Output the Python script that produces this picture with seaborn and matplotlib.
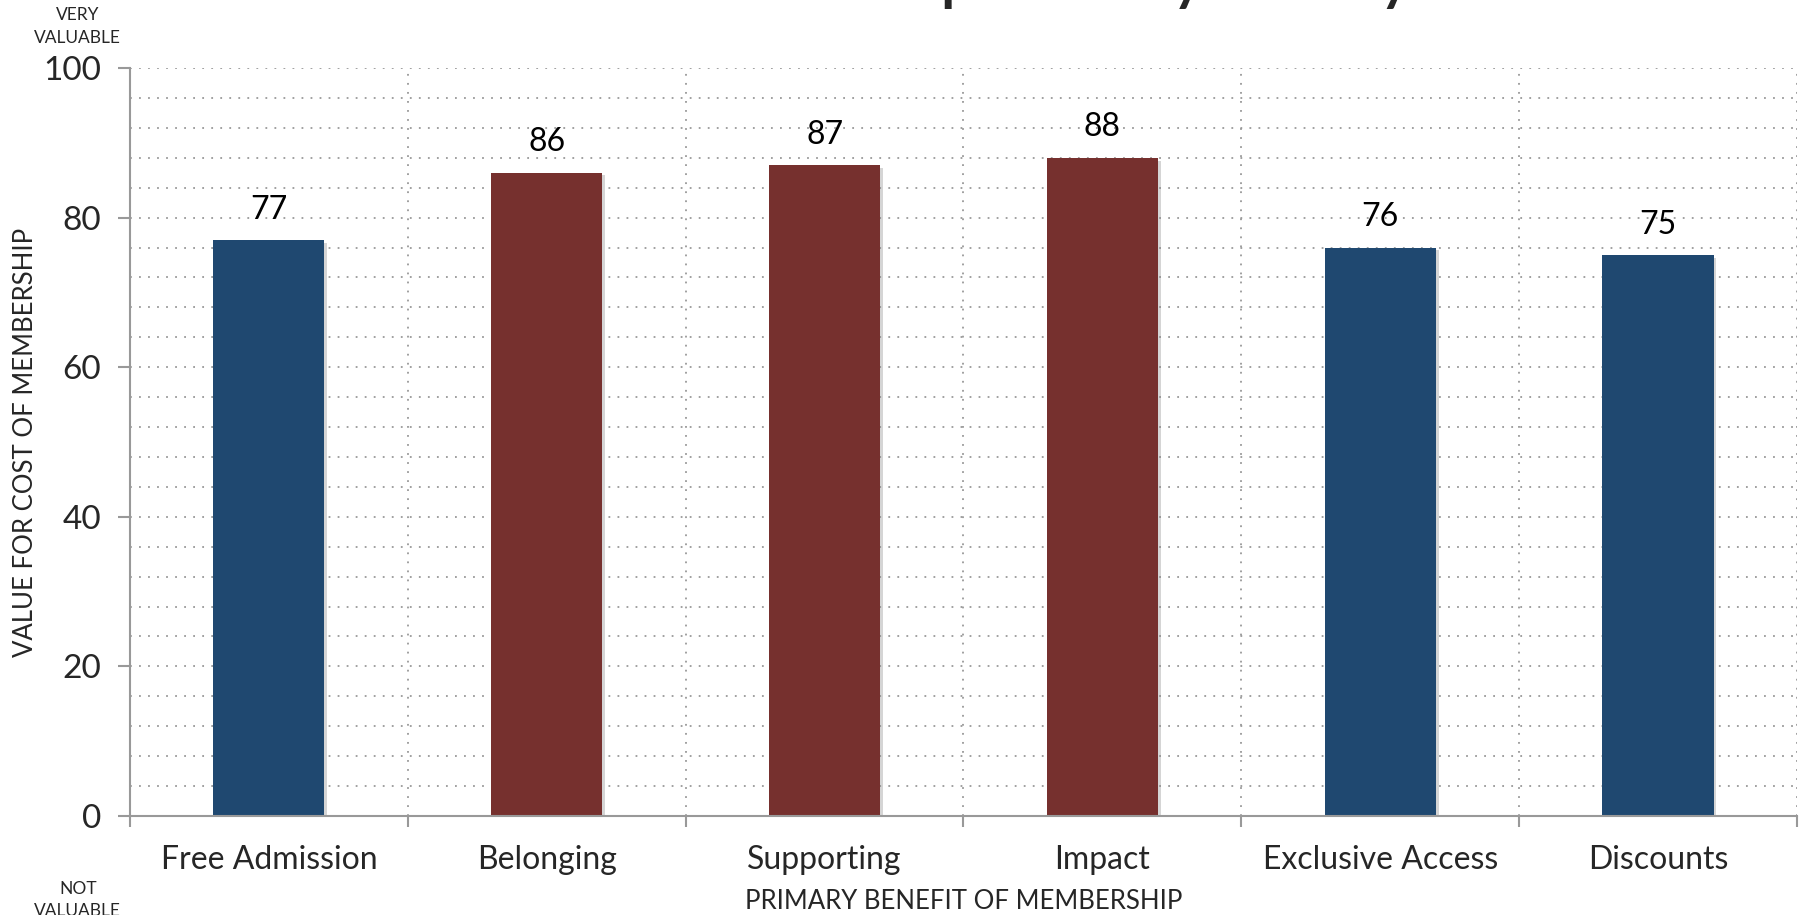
import matplotlib
matplotlib.use("Agg")
import matplotlib.pyplot as plt
import matplotlib.patheffects as pe
from matplotlib.ticker import MultipleLocator, FixedLocator
import seaborn as sns
import pandas as pd

# Data
benefits = ["Free Admission", "Belonging", "Supporting", "Impact", "Exclusive Access", "Discounts"]
scores = [77, 86, 87, 88, 76, 75]
groups = ["tangible", "intangible", "intangible", "intangible", "tangible", "tangible"]
group_colors = {"tangible": "#1f4870", "intangible": "#76302e"}

title_text = "Membership Value by Primary Benefit"
y_label = "VALUE FOR COST OF MEMBERSHIP"
x_label = "PRIMARY BENEFIT OF MEMBERSHIP"
top_note = "VERY\nVALUABLE"
bottom_note = "NOT\nVALUABLE"

sns.set_theme(style="white")
plt.rcParams["font.family"] = ["Lato", "DejaVu Sans"]

df = pd.DataFrame({"benefit": benefits, "score": scores, "group": groups})

fig = plt.figure(figsize=(18.08, 9.15), dpi=100)
ax = fig.add_axes([0.0719, 0.1082, 0.922, 0.8175])

sns.barplot(data=df, x="benefit", y="score", hue="group", palette=group_colors,
            dodge=False, width=0.4, legend=False, ax=ax, saturation=1,
            edgecolor="none")

for bar in ax.patches:
    bar.set_path_effects([pe.SimplePatchShadow(offset=(2, -2), shadow_rgbFace="#888888", alpha=0.35),
                          pe.Normal()])
    bar.set_zorder(3)

for i, v in enumerate(scores):
    ax.annotate(f"{v}", xy=(i, v), xytext=(0, 11), textcoords="offset points",
                ha="center", va="bottom", fontsize=23, color="black", zorder=4)

ax.set_xlim(-0.5, len(benefits) - 0.5)
ax.set_ylim(0, 100)

# Y axis: labelled majors every 20, dotted grid every 4
ax.yaxis.set_major_locator(MultipleLocator(20))
ax.yaxis.set_minor_locator(MultipleLocator(4))
ax.tick_params(axis="y", which="major", direction="out", length=9, width=1.5,
               color="#999999", labelsize=24, pad=12, left=True)
ax.tick_params(axis="y", which="minor", length=0)

# X axis: labels at centres, tick marks and grid on category boundaries
ax.xaxis.set_major_locator(FixedLocator(range(len(benefits))))
ax.set_xticks([i - 0.5 for i in range(len(benefits) + 1)], minor=True)
ax.tick_params(axis="x", which="major", length=0, labelsize=23, pad=21)
ax.tick_params(axis="x", which="minor", direction="out", length=8, width=1.5,
               color="#999999", bottom=True)

ax.grid(False)
ax.yaxis.grid(True, which="both", linestyle=(0, (1, 4)), color="#999999", linewidth=1.3)
ax.xaxis.grid(True, which="minor", linestyle=(0, (1, 4)), color="#999999", linewidth=1.3)
ax.set_axisbelow(True)

for side in ["top", "right"]:
    ax.spines[side].set_visible(False)
for side in ["left", "bottom"]:
    ax.spines[side].set_color("#999999")
    ax.spines[side].set_linewidth(1.5)
    ax.spines[side].set_zorder(5)

ax.set_xlabel(x_label, fontsize=18.5)
ax.set_ylabel(y_label, fontsize=18.5)
ax.xaxis.set_label_coords(0.5, -0.098)
ax.yaxis.set_label_coords(-0.055, 0.5)

fig.text(0.043, 0.971, top_note, ha="center", va="center", fontsize=12.5, linespacing=1.55)
fig.text(0.043, 0.0165, bottom_note, ha="center", va="center", fontsize=12.5, linespacing=1.5)

# Large title sitting at the very top edge
fig.text(0.6266, 1.0, title_text, ha="center", va="baseline", fontsize=40, fontweight="bold")

fig.savefig("out.png", dpi=100)
